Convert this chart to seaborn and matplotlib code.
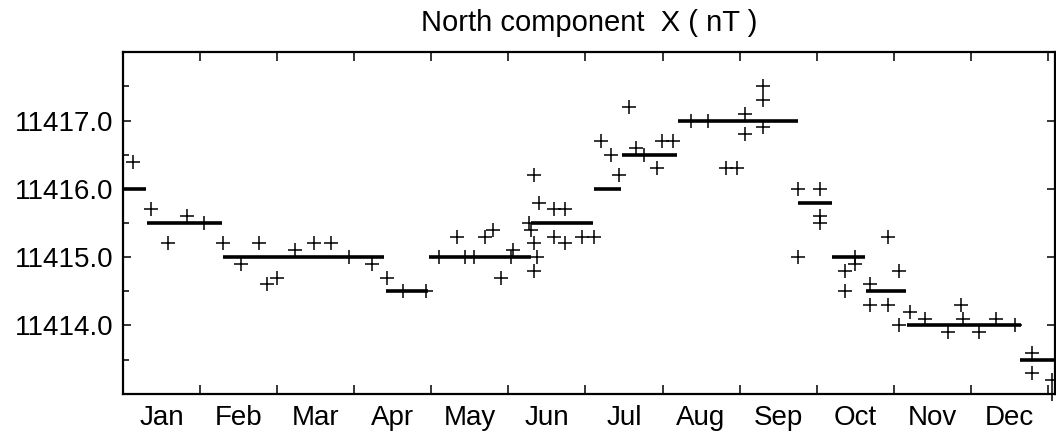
import numpy as np
import pandas as pd
import matplotlib
matplotlib.use("Agg")
import matplotlib.pyplot as plt
import seaborn as sns

# weekly observations: day of year, X component (nT)
day = [4, 11, 17.9, 25.1, 32.1, 39.3, 46.5, 53.6, 56.7, 60.7, 67.9, 75.2, 81.9, 89.3,
       98.2, 104.3, 110.3, 119.5, 124.8, 131.8, 134.9, 138.7, 142.7, 146.1, 149.0,
       153.1, 154.0, 160.2, 161.2, 162.1, 162.1, 162.1, 163.4, 164.1, 170.0, 170.0,
       174.4, 174.4, 181.3, 185.8, 188.6, 192.5, 195.7, 199.7, 202.6, 205.6, 210.8,
       212.9, 217.1, 224.1, 231.0, 238.1, 242.3, 245.4, 245.4, 252.6, 252.6, 252.6,
       266.5, 266.5, 274.9, 274.9, 274.9, 284.8, 284.8, 288.7, 288.7, 294.9, 294.9,
       301.9, 301.9, 306.1, 306.1, 310.5, 316.4, 325.6, 330.6, 331.5, 337.7, 344.7,
       351.9, 358.9, 358.9, 366.7, 366.7]
x_nT = [11416.4, 11415.7, 11415.2, 11415.6, 11415.5, 11415.2, 11414.9, 11415.2, 11414.6,
        11414.7, 11415.1, 11415.2, 11415.2, 11415.0,
        11414.9, 11414.7, 11414.5, 11414.5, 11415.0, 11415.3, 11415.0, 11415.0, 11415.3,
        11415.4, 11414.7, 11415.0, 11415.1, 11415.5, 11415.4, 11416.2, 11415.2, 11414.8,
        11415.0, 11415.8, 11415.7, 11415.3, 11415.7, 11415.2, 11415.3, 11415.3, 11416.7,
        11416.5, 11416.2, 11417.2, 11416.6, 11416.5, 11416.3, 11416.7, 11416.7, 11417.0,
        11417.0, 11416.3, 11416.3, 11417.1, 11416.8, 11417.5, 11417.3, 11416.9,
        11416.0, 11415.0, 11416.0, 11415.6, 11415.5, 11414.8, 11414.5, 11415.0, 11414.9,
        11414.6, 11414.3, 11415.3, 11414.3, 11414.8, 11414.0, 11414.2, 11414.1, 11413.9,
        11414.3, 11414.1, 11413.9, 11414.1, 11414.0, 11413.6, 11413.3, 11413.2, 11413.0]

# baseline steps
seg_start = [0, 9.3, 39.6, 103.6, 120.7, 161.2, 185.8, 197.0, 219.0, 266.5, 280.0, 293.4, 309.4, 354.1]
seg_end = [8.9, 39.2, 103.1, 120.4, 161.2, 185.5, 196.7, 218.8, 266.4, 279.8, 293.0, 309.2, 354.5, 368]
seg_val = [11416.0, 11415.5, 11415.0, 11414.5, 11415.0, 11415.5, 11416.0, 11416.5, 11417.0,
           11415.8, 11415.0, 11414.5, 11414.0, 11413.5]

months = ['Jan', 'Feb', 'Mar', 'Apr', 'May', 'Jun', 'Jul', 'Aug', 'Sep', 'Oct', 'Nov', 'Dec']

df = pd.DataFrame({"day": day, "X": x_nT})

sns.set_style("ticks")
plt.rcParams['font.family'] = ['Liberation Sans', 'DejaVu Sans']
plt.rcParams.update({'text.color': 'black', 'xtick.color': 'black',
                     'ytick.color': 'black', 'axes.labelcolor': 'black'})

fig = plt.figure(figsize=(10.56, 4.41), dpi=100)
ax = fig.add_axes([0.1165, 0.1073, 0.883, 0.7741])

ax.hlines(seg_val, seg_start, seg_end, color='black', linewidth=2.6, zorder=2)
sns.scatterplot(data=df, x="day", y="X", marker='+', color='black', s=110,
                linewidth=1.1, ax=ax, zorder=3, clip_on=False)

ax.set_xlim(0, 368)
ax.set_ylim(11413, 11418)

bounds = np.arange(1, 13) * 365 / 12
mids = (np.arange(12) + 0.5) * 365 / 12
ax.set_xticks(bounds)
ax.set_xticklabels([])
ax.set_xticks(mids, minor=True)
ax.set_xticklabels(months, minor=True, fontsize=20)
ax.tick_params(axis='x', which='major', direction='in', length=6.5, width=1.1,
               top=True, bottom=True)
ax.tick_params(axis='x', which='minor', length=0, pad=8)

ax.set_yticks([11414, 11415, 11416, 11417])
ax.set_yticklabels(["11414.0", "11415.0", "11416.0", "11417.0"], fontsize=20)
ax.set_yticks([11413.5, 11414.5, 11415.5, 11416.5, 11417.5], minor=True)
ax.tick_params(axis='y', which='major', direction='in', length=6, width=1.1,
               left=True, right=True, pad=7)
ax.tick_params(axis='y', which='minor', direction='in', length=4, width=1.1,
               left=True, right=False)

for s in ax.spines.values():
    s.set_visible(True)
    s.set_linewidth(1.6)
    s.set_color('black')

ax.set_xlabel("")
ax.set_ylabel("")
ax.set_title("North component  X ( nT )", fontsize=21, pad=15, color='black')

fig.savefig("out.png", dpi=100)
